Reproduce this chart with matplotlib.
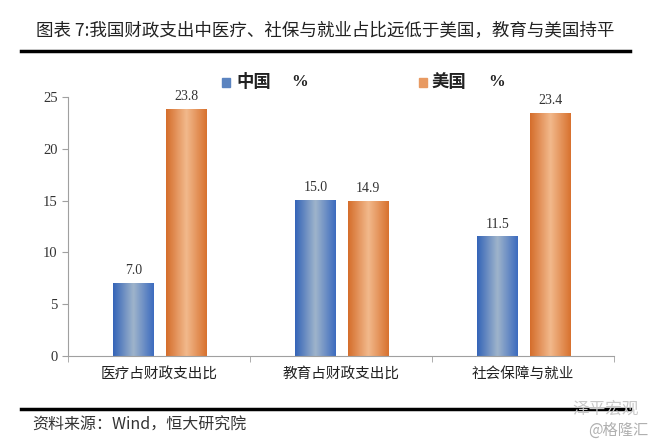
import numpy as np
import matplotlib.pyplot as plt
from matplotlib.colors import LinearSegmentedColormap
from matplotlib.patches import Rectangle
from matplotlib.lines import Line2D

plt.rcParams['font.family'] = ['Noto Sans CJK SC', 'DejaVu Sans']

categories = ['医疗占财政支出比', '教育占财政支出比', '社会保障与就业']
china = [7.0, 15.0, 11.5]
usa = [23.8, 14.9, 23.4]
series_names = ['中国', '美国']

fig = plt.figure(figsize=(6.51, 4.42), dpi=100)
ax = fig.add_axes([0.1045, 0.1946, 0.8385, 0.586])

x = np.arange(len(categories))
w = 0.225
blue_cm = LinearSegmentedColormap.from_list('b', ['#3565b8', '#9fb4cb', '#3d6cbf'])
orng_cm = LinearSegmentedColormap.from_list('o', ['#d56e2c', '#f2b98c', '#d8722f'])

grad = np.linspace(0, 1, 64).reshape(1, -1)
for vals, off, cm in [(china, -0.14, blue_cm), (usa, 0.15, orng_cm)]:
    bars = ax.bar(x + off, vals, w, color='none', edgecolor='none', zorder=2)
    for b, v in zip(bars, vals):
        x0, y0 = b.get_x(), b.get_y()
        ax.imshow(grad, cmap=cm, aspect='auto', zorder=2,
                  extent=[x0, x0 + b.get_width(), y0, y0 + b.get_height()])
        ax.text(x0 + b.get_width() / 2, v + 0.6, f'{v:.1f}', ha='center',
                va='bottom', fontsize=10, family='Liberation Serif', color='#333333')

ax.set_xlim(-0.5, 2.5)
ax.set_ylim(0, 25)
ax.set_yticks(range(0, 26, 5))
ax.set_yticklabels([str(t) for t in range(0, 26, 5)], family='Liberation Serif',
                   fontsize=10.5, color='#333333')
ax.set_xticks(x)
ax.set_xticklabels(categories, fontsize=10.5, color='#222222')
ax.set_xticks([-0.5, 0.5, 1.5, 2.5], minor=True)
ax.tick_params(axis='x', which='major', length=0, pad=8)
ax.tick_params(axis='x', which='minor', length=4, color='#a0a0a0', direction='out')
ax.tick_params(axis='y', length=4, color='#a0a0a0', direction='out')
for s in ['top', 'right']:
    ax.spines[s].set_visible(False)
for s in ['left', 'bottom']:
    ax.spines[s].set_color('#a0a0a0')

# legend
fig.patches.append(Rectangle((222 / 651, 1 - 87 / 442), 8 / 651, 9 / 442,
                             transform=fig.transFigure, color='#5b84c0'))
fig.text(236 / 651, 1 - 82 / 442, series_names[0], fontsize=12.5, fontweight='bold',
         va='center', color='#222222')
fig.text(291 / 651, 1 - 82 / 442, '%', fontsize=12, family='Liberation Serif',
         fontweight='bold', va='center', color='#222222')
fig.patches.append(Rectangle((419 / 651, 1 - 87 / 442), 8 / 651, 9 / 442,
                             transform=fig.transFigure, color='#e89a62'))
fig.text(432 / 651, 1 - 82 / 442, series_names[1], fontsize=12.5, fontweight='bold',
         va='center', color='#222222')
fig.text(488 / 651, 1 - 82 / 442, '%', fontsize=12, family='Liberation Serif',
         fontweight='bold', va='center', color='#222222')

# title and rules
fig.text(0.5, 1 - 31 / 442, '图表 7:我国财政支出中医疗、社保与就业占比远低于美国，教育与美国持平',
         ha='center', va='center', fontsize=12.6, color='#222222')
fig.lines.append(Line2D([21 / 651, 630 / 651], [1 - 51 / 442, 1 - 51 / 442],
                        transform=fig.transFigure, color='black', lw=2.5))
fig.lines.append(Line2D([21 / 651, 630 / 651], [1 - 409 / 442, 1 - 409 / 442],
                        transform=fig.transFigure, color='black', lw=2.5))
fig.text(32 / 651, 1 - 425 / 442, '资料来源：Wind，恒大研究院', fontsize=11.5,
         style='italic', va='center', color='#333333')
fig.text(572 / 651, 1 - 409 / 442, '泽平宏观', fontsize=12, ha='left',
         va='center', color='#c8c8c8')
fig.text(648 / 651, 1 - 430 / 442, '@格隆汇', fontsize=11, ha='right',
         va='center', color='#b0b0b0')

fig.savefig('out.png', dpi=100)
